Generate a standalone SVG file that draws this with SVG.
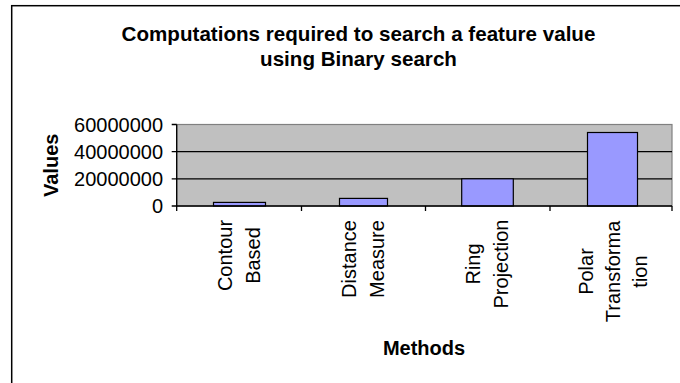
<svg xmlns="http://www.w3.org/2000/svg" width="680" height="383" viewBox="0 0 680 383">
  <style>
    text { font-family: "Liberation Sans", Arial, sans-serif; fill: #000; }
    .title { font-size: 20.6px; font-weight: bold; text-anchor: middle; }
    .axis-title { font-size: 20px; font-weight: bold; text-anchor: middle; }
    .tick-label { font-size: 20px; text-anchor: end; }
    .cat { font-size: 20px; text-anchor: middle; }
    .grid { stroke: #000; stroke-width: 1.2; }
    .axis { stroke: #000; stroke-width: 1.3; fill: none; }
    .bar { fill: #9999FF; stroke: #000; stroke-width: 1.2; }
  </style>

  <!-- chart area background and frame -->
  <rect x="0" y="0" width="680" height="383" fill="#fff"/>
  <rect x="11.7" y="5.7" width="700" height="420" fill="none" stroke="#000" stroke-width="1.5"/>

  <!-- chart title -->
  <g id="title">
    <text class="title" x="358.5" y="41">Computations required to search a feature value</text>
    <text class="title" x="358.5" y="66">using Binary search</text>
  </g>

  <!-- plot area -->
  <g id="plot-area">
    <rect x="176.7" y="124.5" width="495.3" height="81.5" fill="#C0C0C0" stroke="#808080" stroke-width="1.2"/>
    <line class="grid" x1="176.7" y1="151.7" x2="672" y2="151.7"/>
    <line class="grid" x1="176.7" y1="178.8" x2="672" y2="178.8"/>
  </g>

  <!-- bars -->
  <g id="bars">
    <rect id="bar-contour" class="bar" x="213.5" y="202.4" width="52" height="3.6"/>
    <rect id="bar-distance" class="bar" x="339.5" y="198.4" width="48" height="7.6"/>
    <rect id="bar-ring" class="bar" x="461.7" y="178.8" width="51.6" height="27.2"/>
    <rect id="bar-polar" class="bar" x="587.5" y="132.5" width="50" height="73.5"/>
  </g>

  <!-- axes and tick marks -->
  <g id="axes">
    <path class="axis" d="M176.7,124.5 V211 M171.7,124.5 H176.7 M171.7,151.7 H176.7 M171.7,178.8 H176.7 M171.7,206 H672"/>
    <path class="axis" d="M301.5,206 V211 M425.5,206 V211 M550,206 V211 M672,206 V211"/>
  </g>

  <!-- value axis labels -->
  <g id="y-labels">
    <text class="tick-label" x="163" y="131.5">60000000</text>
    <text class="tick-label" x="163" y="158.7">40000000</text>
    <text class="tick-label" x="163" y="185.8">20000000</text>
    <text class="tick-label" x="163" y="213">0</text>
  </g>
  <text class="axis-title" transform="translate(58,165.3) rotate(-90)">Values</text>

  <!-- category labels -->
  <g id="cat-contour">
    <text class="cat" transform="translate(232,255.5) rotate(-90)">Contour</text>
    <text class="cat" transform="translate(260,255.5) rotate(-90)">Based</text>
  </g>
  <g id="cat-distance">
    <text class="cat" transform="translate(356,259) rotate(-90)">Distance</text>
    <text class="cat" transform="translate(384,259) rotate(-90)">Measure</text>
  </g>
  <g id="cat-ring">
    <text class="cat" transform="translate(480,264) rotate(-90)">Ring</text>
    <text class="cat" transform="translate(508,264) rotate(-90)">Projection</text>
  </g>
  <g id="cat-polar">
    <text class="cat" transform="translate(592.5,271.5) rotate(-90)">Polar</text>
    <text class="cat" transform="translate(620,271.5) rotate(-90)">Transforma</text>
    <text class="cat" transform="translate(647,271.5) rotate(-90)">tion</text>
  </g>

  <text class="axis-title" x="424" y="355">Methods</text>
</svg>
